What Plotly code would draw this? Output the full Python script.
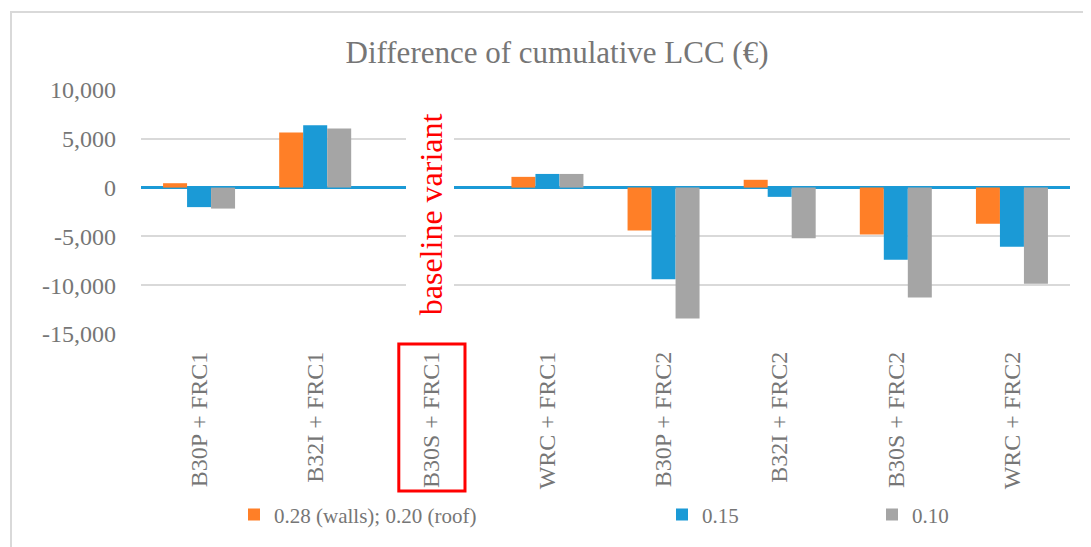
import plotly.graph_objects as go

categories = ["B30P + FRC1", "B32I + FRC1", "B30S + FRC1", "WRC + FRC1",
              "B30P + FRC2", "B32I + FRC2", "B30S + FRC2", "WRC + FRC2"]
series_names = ["0.28 (walls); 0.20 (roof)", "0.15", "0.10"]
vals_028 = [450, 5650, None, 1100, -4400, 800, -4800, -3700]
vals_015 = [-2000, 6400, None, 1400, -9400, -950, -7400, -6050]
vals_010 = [-2150, 6050, None, 1400, -13400, -5200, -11250, -9850]
tick_vals = [10000, 5000, 0, -5000, -10000, -15000]
tick_text = ["10,000", "5,000", "0", "-5,000", "-10,000", "-15,000"]
title_text = "Difference of cumulative LCC (€)"
baseline_text = "baseline variant"

colors = ["#FF7F27", "#1B9AD6", "#A5A5A5"]
FONT = "Liberation Serif, Times New Roman, serif"
GRAY = "#767676"

# page shows an 8px body margin; size figure to fill the rest of the window
OFF = 8
W, H = 1091 - OFF, 547 - OFF
L, T = 141 - OFF, 90 - OFF
R = W - (1070 - OFF)
B = H - (337 - OFF)
pw, ph = W - L - R, H - T - B

def px_x(p):  # page pixel -> paper x
    return (p - OFF - L) / pw

def px_y(p):  # page pixel -> paper y
    return (H - B - (p - OFF)) / ph

fig = go.Figure()
legends = ["legend", "legend2", "legend3"]
for name, vals, c, lg in zip(series_names, [vals_028, vals_015, vals_010], colors, legends):
    fig.add_trace(go.Bar(x=categories, y=vals, name=name, marker_color=c,
                         marker_line_width=0, legend=lg, showlegend=True))

legend_common = dict(orientation="h", yanchor="middle", xanchor="left",
                     font=dict(family=FONT, size=21, color=GRAY),
                     bgcolor="rgba(0,0,0,0)", borderwidth=0)

fig.update_layout(
    width=W, height=H,
    margin=dict(l=L, r=R, t=T, b=B),
    paper_bgcolor="white", plot_bgcolor="white",
    showlegend=True,
    barmode="group", bargap=0.38, bargroupgap=0,
    title=dict(text=title_text, x=(557 - OFF) / W, xanchor="center",
               y=1 - (52 - OFF) / H, yanchor="middle",
               font=dict(family=FONT, size=31, color=GRAY)),
    legend=dict(x=px_x(234), y=px_y(520), **legend_common),
    legend2=dict(x=px_x(662), y=px_y(520), **legend_common),
    legend3=dict(x=px_x(872), y=px_y(520), **legend_common),
    xaxis=dict(type="category", categoryorder="array", categoryarray=categories,
               tickangle=-90, showgrid=False, showline=False, ticks="",
               ticklabelstandoff=12,
               tickfont=dict(family=FONT, size=24, color=GRAY)),
    yaxis=dict(range=[-15000, 10000], tickvals=tick_vals, ticktext=tick_text,
               showgrid=True, gridcolor="#D9D9D9", gridwidth=1.5,
               zeroline=True, zerolinecolor="#1B9AD6", zerolinewidth=3,
               showline=False, ticks="", ticklabelstandoff=24,
               tickfont=dict(family=FONT, size=24, color=GRAY)),
)

# chart-area border
fig.add_shape(type="rect", xref="paper", yref="paper",
              x0=px_x(11), x1=px_x(1110), y0=px_y(11), y1=px_y(570),
              line=dict(color="#D9D9D9", width=2), fillcolor="rgba(0,0,0,0)", layer="below")

# white box behind the baseline label
fig.add_shape(type="rect", xref="paper", yref="paper",
              x0=px_x(406), x1=px_x(454), y0=px_y(100), y1=px_y(330),
              line=dict(width=0), fillcolor="white", layer="above")

fig.add_annotation(text=baseline_text, x=categories[2], y=-2700, xref="x", yref="y",
                   textangle=-90, showarrow=False,
                   font=dict(family=FONT, size=32, color="#FF0000"))

# red box around baseline category label
fig.add_shape(type="rect", xref="x", yref="paper",
              x0=2 - 0.28, x1=2 + 0.29, y0=px_y(347), y1=px_y(496),
              line=dict(color="#FF0000", width=3), fillcolor="rgba(0,0,0,0)")

fig.write_html("out.html")
